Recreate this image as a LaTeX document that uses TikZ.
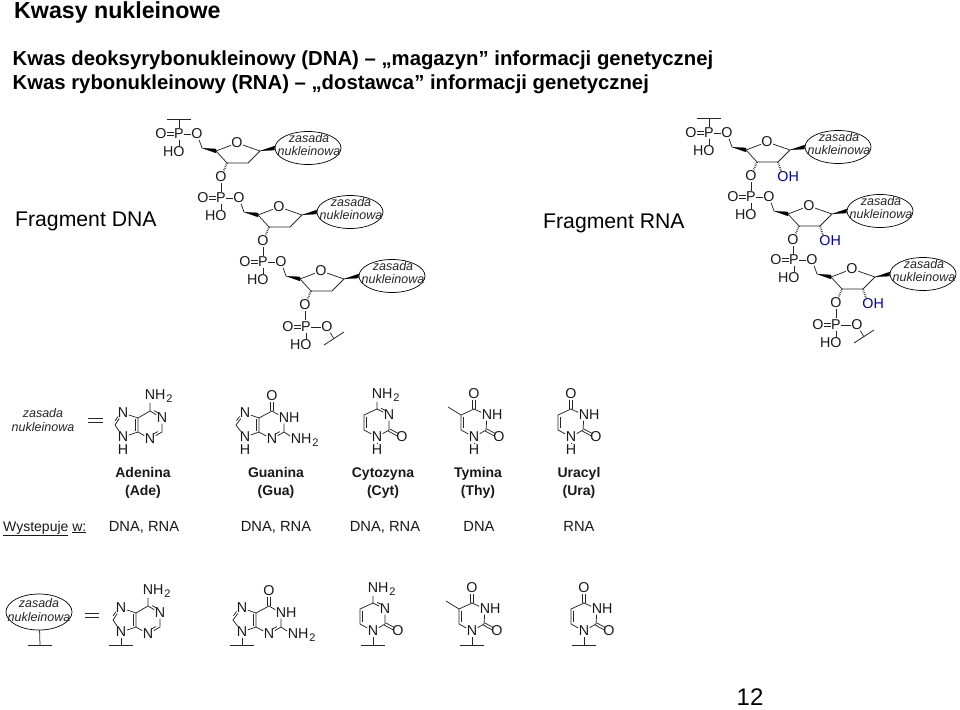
\documentclass[tikz,border=0pt]{standalone}
\usepackage{fontspec}
\setmainfont{Liberation Sans}
\usetikzlibrary{calc,shapes.geometric}
\tikzset{
  x=1pt,y=-1pt,
  bond/.style={line width=0.75pt,black!85},
  atom/.style={font=\fontsize{14.3}{14.3}\selectfont,inner sep=0.4pt,text=black!90},
  oh/.style={atom,text={rgb,255:red,0;green,0;blue,170}},
  wedge/.style={fill=black,draw=black,line width=0.2pt},
  hash/.style={line width=1.8pt,dash pattern=on 0.7pt off 1.1pt,black!80},
  baseell/.style={ellipse,draw,line width=0.7pt,minimum width=66pt,minimum height=33pt,inner sep=0pt},
  zas/.style={font=\fontsize{12.5}{14}\selectfont\itshape,align=center,inner sep=0pt,text=black!85},
  zaschain/.style={font=\fontsize{12.5}{13}\selectfont\itshape,align=center,inner sep=0pt,text=black!85},
  bname/.style={font=\fontsize{14}{17.5}\selectfont\bfseries,align=center,inner sep=0pt,text=black!90},
  occur/.style={font=\fontsize{14.7}{16}\selectfont,inner sep=0pt,text=black!90,anchor=base},
  frag/.style={font=\fontsize{21.2}{22}\selectfont,inner sep=0pt,anchor=base west},
  headline/.style={font=\fontsize{20.3}{22}\selectfont\bfseries,inner sep=0pt,anchor=base west},
  barline/.style={line width=0.8pt,black!85},
  barteeth/.style={line width=1.6pt,dash pattern=on 0.6pt off 0.7pt,black!85},
}
\newcommand{\mysubtwo}{\kern1pt\raisebox{-2.5pt}{\fontsize{11}{11}\selectfont 2}}
\newcommand{\myNHtwo}{N\rlap{H\mysubtwo}}
\newcommand{\mydbl}[4]{\draw[bond] ($(#1)!#4!(#2)!#3!90:(#2)$) -- ($(#2)!#4!(#1)!-#3!90:(#1)$);}
\newcommand{\mytick}[3]{% centre x, y, half width
  \draw[barline] (#1-#3,#2) -- (#1+#3,#2);
  \draw[barteeth] (#1-#3,#2+0.6) -- (#1+#3,#2+0.6);}
\newcommand{\myphos}[3]{
  \begin{scope}[shift={(#1,#2)}]
    \node[atom] (p) at (0,0) {P};
    \node[atom] (od) at (-18,0) {O};
    \node[atom] (or) at (#3,0) {O};
    \node[atom] (ho) at (0,18) {\llap{H}O};
    \draw[bond] (p) -- (or);
    \draw[bond] (p) -- (ho);
    \draw[bond] ([yshift=1.6pt]od.east) -- ([yshift=1.6pt]p.west);
    \draw[bond] ([yshift=-1.6pt]od.east) -- ([yshift=-1.6pt]p.west);
  \end{scope}}
\newcommand{\mysugar}[2]{
  \begin{scope}[shift={(#1,#2)}]
    \coordinate (c5) at (23,14);
    \coordinate (c4) at (37,17);
    \node[atom] (or4) at (58,9) {O};
    \coordinate (c1) at (81,17);
    \coordinate (c2) at (69,29);
    \coordinate (c3) at (48,29);
    \node[baseell] (base) at (129,14) {};
    \node[zaschain] (btxt) at (130,10.5) {zasada\\nukleinowa};
    \node[atom] (o3) at (42,43) {O};
    \draw[bond] (or) -- (c5);
    \fill[wedge] (c5) -- ([yshift=-2pt]c4) -- ([yshift=2pt]c4) -- cycle;
    \fill[wedge] (c1) -- ([yshift=-2pt,xshift=-0.3pt]base.west) -- ([yshift=2pt,xshift=0.3pt]base.west) -- cycle;
    \draw[bond] (c4) -- (or4) -- (c1) -- (c2) -- (c3) -- (c4);
    \draw[hash] (c3) -- (o3);
    \coordinate (pn) at (42,57.5);
    \draw[bond] (o3) -- (pn);
  \end{scope}}
\newcommand{\myribose}[2]{
  \begin{scope}[shift={(#1,#2)}]
    \node[oh] (oh2) at (74,44) {O\rlap{H}};
    \draw[hash] (c2) -- (oh2);
  \end{scope}}
\newcommand{\mytopbar}[2]{
  \coordinate (tb) at (#1,#2-15);
  \draw[bond] (tb) -- (p);
  \mytick{#1}{#2-15}{12}}
\newcommand{\myendbar}[2]{
  \begin{scope}[shift={(#1,#2)}]
    \coordinate (ba) at (18,18);
    \coordinate (bb) at (38,5);
    \coordinate (bm) at (28,12);
    \draw[bond] (or) -- (bm);
    \draw[barline] (ba) -- (bb);
  \end{scope}}
\newcommand{\myadenine}[2]{
  \begin{scope}[shift={(#1)}]
    \node[atom] (nh) at (150,396) {\myNHtwo};
    \coordinate (c6) at (150,411);
    \node[atom] (n1) at (162,418) {N};
    \coordinate (c2) at (162,432);
    \node[atom] (n3) at (150,439) {N};
    \coordinate (c4) at (138,432);
    \coordinate (c5) at (138,418);
    \node[atom] (n7) at (123,413) {N};
    \coordinate (c8) at (115,425);
    \node[atom] (n9) at (123,437) {N};
    \draw[bond] (nh) -- (c6) -- (n1) -- (c2) -- (n3) -- (c4) -- (c5) -- (c6);
    \draw[bond] (c5) -- (n7) -- (c8) -- (n9) -- (c4);
    \mydbl{c5}{c4}{-2.5pt}{.1}
    \draw[bond] ($(c6)!.25!(n1)!2.5pt!90:(n1)$) -- ($(c6)!.6!(n1)!2.5pt!90:(n1)$);
    \draw[bond] ($(c2)!.25!(n3)!2.5pt!-90:(n3)$) -- ($(c2)!.6!(n3)!2.5pt!-90:(n3)$);
    \draw[bond] ($(c8)!.25!(n7)!2.2pt!90:(n7)$) -- ($(c8)!.6!(n7)!2.2pt!90:(n7)$);
    #2
  \end{scope}}
\newcommand{\myguanine}[2]{
  \begin{scope}[shift={(#1)}]
    \node[atom] (ot) at (272,396) {O};
    \coordinate (c6) at (272,411);
    \node[atom] (n1) at (284,418) {N\rlap{H}};
    \coordinate (c2) at (284,432);
    \node[atom] (n3) at (272,439) {N};
    \coordinate (c4) at (259,432);
    \coordinate (c5) at (259,418);
    \node[atom] (n7) at (245,413) {N};
    \coordinate (c8) at (236,425);
    \node[atom] (n9) at (245,437) {N};
    \node[atom] (nh) at (296,440) {\myNHtwo};
    \draw[bond] ($(ot.south)+(-1.3pt,0)$) -- ($(c6)+(-1.3pt,0)$);
    \draw[bond] ($(ot.south)+(1.3pt,0)$) -- ($(c6)+(1.3pt,0)$);
    \draw[bond] (c6) -- (n1) -- (c2) -- (n3) -- (c4) -- (c5) -- (c6);
    \draw[bond] (c5) -- (n7) -- (c8) -- (n9) -- (c4);
    \draw[bond] (c2) -- (nh);
    \mydbl{c5}{c4}{-2.5pt}{.1}
    \draw[bond] ($(c2)!.25!(n3)!2.5pt!-90:(n3)$) -- ($(c2)!.6!(n3)!2.5pt!-90:(n3)$);
    \draw[bond] ($(c8)!.25!(n7)!2.2pt!90:(n7)$) -- ($(c8)!.6!(n7)!2.2pt!90:(n7)$);
    #2
  \end{scope}}
\newcommand{\mypyr}[1]{
    \coordinate (c4) at (0,409);
    \node[atom] (n1) at (0,437) {N};
    \coordinate (c2) at (12,430);
    \node[atom] (o2) at (25,437) {O};
    \coordinate (c6) at (-13,430);
    \coordinate (c5) at (-13,415);
    \draw[bond] (c4) -- (c5) -- (c6) -- (n1) -- (c2);
    \mydbl{c5}{c6}{2.5pt}{.12}
    \draw[bond] ($(c2)!1.3pt!90:(o2)$) -- ($(o2)!.35!(c2)!-1.3pt!90:(c2)$);
    \draw[bond] ($(c2)!1.3pt!-90:(o2)$) -- ($(o2)!.35!(c2)!1.3pt!90:(c2)$);
    #1}
\newcommand{\mycyt}[2]{
  \begin{scope}[shift={(#1)}]
    \mypyr{
      \node[atom] (nh) at (0,395) {\myNHtwo};
      \node[atom] (n3) at (12,415) {N};
      \draw[bond] (nh) -- (c4) -- (n3) -- (c2);
      \draw[bond] ($(c4)!.25!(n3)!2.5pt!90:(n3)$) -- ($(c4)!.6!(n3)!2.5pt!90:(n3)$);
      #2}
  \end{scope}}
\newcommand{\myoxo}[2]{
  \begin{scope}[shift={(#1)}]
    \mypyr{
      \node[atom] (ot) at (0,394) {O};
      \node[atom] (n3) at (13,415) {N\rlap{H}};
      \draw[bond] (c4) -- (n3) -- (c2);
      \draw[bond] ($(ot.south)+(-1.3pt,0)$) -- ($(c4)+(-1.3pt,0)$);
      \draw[bond] ($(ot.south)+(1.3pt,0)$) -- ($(c4)+(1.3pt,0)$);
      #2}
  \end{scope}}
\newcommand{\mymethyl}{\coordinate (me) at (-26,407); \draw[bond] (c5) -- (me);}
\newcommand{\myhdown}{\node[atom] (hh) at (0,449.5) {H}; \draw[bond] (n1) -- (hh);}
\newcommand{\mybardown}{\coordinate (bt) at (0,451); \draw[bond] (n1) -- (bt); \mytick{0}{451}{12}}

\begin{document}
\begin{tikzpicture}
\useasboundingbox (0,0) rectangle (960,709);
\node[font=\fontsize{23.2}{25}\selectfont\bfseries,inner sep=0pt,anchor=base west] (title) at (14,19) {Kwasy nukleinowe};
\node[headline] (l1) at (12.5,65.5) {Kwas deoksyrybonukleinowy (DNA) – „magazyn” informacji genetycznej};
\node[headline] (l2) at (12.5,89) {Kwas rybonukleinowy (RNA) – „dostawca” informacji genetycznej};
\node[frag] (fd) at (15,226) {Fragment DNA};
\node[frag] (fr) at (543,228) {Fragment RNA};

\myphos{179}{134}{18} \mytopbar{179}{134} \mysugar{179}{134}
\myphos{221}{198}{18} \mysugar{221}{198}
\myphos{263}{262}{18} \mysugar{263}{262}
\myphos{306}{327}{21} \myendbar{306}{327}
\myphos{709}{133}{18} \mytopbar{709}{133} \mysugar{709}{133} \myribose{709}{133}
\myphos{751}{197}{18} \mysugar{751}{197} \myribose{751}{197}
\myphos{794}{260}{18} \mysugar{794}{260} \myribose{794}{260}
\myphos{836}{325}{21} \myendbar{836}{325}

\node[zas] (zk) at (43,420) {zasada\\nukleinowa};
\coordinate (e1a) at (88,418); \coordinate (e1b) at (103,418);
\coordinate (e2a) at (88,422); \coordinate (e2b) at (103,422);
\draw[bond] (e1a) -- (e1b); \draw[bond] (e2a) -- (e2b);

\myadenine{0,0}{\node[atom] (hh) at (123,449.5) {H};}
\myguanine{0,0}{\node[atom] (hh) at (245,449.5) {H};}
\mycyt{377,0}{\myhdown}
\myoxo{474,0}{\mymethyl\myhdown}
\myoxo{571,0}{\myhdown}

\node[bname] (n1t) at (143,483) {Adenina\\(Ade)};
\node[bname] (n2t) at (276,483) {Guanina\\(Gua)};
\node[bname] (n3t) at (383,483) {Cytozyna\\(Cyt)};
\node[bname] (n4t) at (478,483) {Tymina\\(Thy)};
\node[bname] (n5t) at (579,483) {Uracyl\\(Ura)};

\node[occur,anchor=base west,font=\fontsize{14}{16}\selectfont] (w0) at (3,531) {\underline{Wystepuje} \underline{w:}};
\node[occur] (w1) at (144,531) {DNA, RNA};
\node[occur] (w2) at (276,531) {DNA, RNA};
\node[occur] (w3) at (385,531) {DNA, RNA};
\node[occur] (w4) at (479,531) {DNA};
\node[occur] (w5) at (579,531) {RNA};

\node[baseell,minimum height=36pt] (kb) at (39,612) {};
\node[zas] (kt) at (39,610) {zasada\\nukleinowa};
\coordinate (kd) at (40,645);
\draw[bond] (kb) -- (kd);
\mytick{40}{645}{12}
\coordinate (e3a) at (85,613.5); \coordinate (e3b) at (99,613.5);
\coordinate (e4a) at (85,617); \coordinate (e4b) at (99,617);
\draw[bond] (e3a) -- (e3b); \draw[bond] (e4a) -- (e4b);

\myadenine{-2,195}{\coordinate (bt) at (123,450); \draw[bond] (n9) -- (bt); \mytick{123}{450}{12}}
\myguanine{-3,195}{\coordinate (bt) at (245,450); \draw[bond] (n9) -- (bt); \mytick{245}{450}{12}}
\mycyt{373,194}{\mybardown}
\myoxo{472,194}{\mymethyl\mybardown}
\myoxo{584,194}{\mybardown}

\node[font=\fontsize{24}{24}\selectfont,inner sep=0pt] (pg) at (750,697) {12};
\end{tikzpicture}
\end{document}
